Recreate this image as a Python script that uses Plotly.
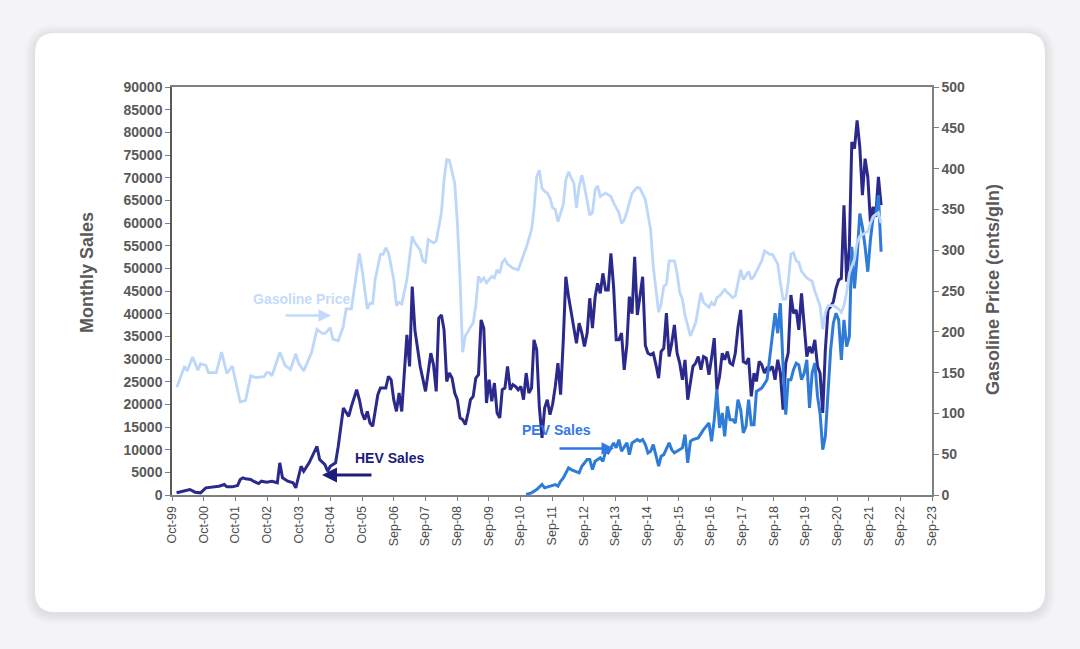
import plotly.graph_objects as go
import pandas as pd

# ---------------- DATA ----------------
x_tick_labels = ["Oct-99", "Oct-00", "Oct-01", "Oct-02", "Oct-03", "Oct-04", "Oct-05",
                 "Sep-06", "Sep-07", "Sep-08", "Sep-09", "Sep-10", "Sep-11", "Sep-12",
                 "Sep-13", "Sep-14", "Sep-15", "Sep-16", "Sep-17", "Sep-18", "Sep-19",
                 "Sep-20", "Sep-21", "Sep-22", "Sep-23"]
x_axis_start = "1999-10-09"     # first labelled tick (Excel date axis)
x_tick_step_days = 364          # Excel major unit

y_left_ticks = list(range(0, 90001, 5000))
y_right_ticks = list(range(0, 501, 50))

# monthly values, None = month not read (line connects across)
gas_start = "1999-12"
gas_price = [
    132,                                                           # 1999 Dec
    140, None, 158, 152, None, 169, None, 153, 161, None, 159, 150,  # 2000
    None, None, 150, None, 175, None, 149, None, 158, None, 130, 114,  # 2001
    None, 116, None, 146, None, 144, None, None, 145, 150, 150, 146,  # 2002
    None, None, 175, None, 159, None, 154, None, 173, 162, None, 152,  # 2003
    None, None, 175, None, 203, None, 198, 198, None, 205, 191, None,  # 2004
    189, None, 207, 228, None, 228, 252, None, 296, 277, None, 228,    # 2005
    235, 235, 264, None, 295, 295, 303, 297, None, 264, 232, 236,      # 2006
    234, None, 264, None, 317, 309, None, 300, 287, 285, 313, None,    # 2007
    309, 311, None, 346, 386, 411, 410, None, 382, 334, 264, 175,      # 2008
    195, 201, None, 211, 232, 268, 262, 266, 260, None, 268, 266,      # 2009
    276, 272, 285, 289, 283, None, 278, None, 276, 285, None, 303,     # 2010
    None, 325, 350, 390, 398, 376, 372, 370, 364, 352, 350, 335,       # 2011
    None, 356, 386, 396, None, 382, 352, 378, 392, 378, None, 343,     # 2012
    346, 374, 379, 366, None, 370, None, 366, 358, None, 346, 333,     # 2013
    337, 347, None, 370, None, 377, 376, None, 362, 341, 325, 280,     # 2014
    None, 224, 234, 256, 258, 287, None, 287, 272, 248, 240, 220,      # 2015
    None, 195, None, 211, 232, 248, 236, None, 230, 236, 232, 242,     # 2016
    244, None, 252, 248, None, 242, 244, 260, 276, 264, None, 274,     # 2017
    264, 268, 274, None, 287, 299, 297, 295, 295, None, 283, 260,      # 2018
    240, 240, 260, 295, 297, 287, 285, 274, None, 266, 264, 262,       # 2019
    250, None, 232, 203, 224, 232, None, 232, 230, 228, 224, 232,      # 2020
    248, 272, None, 289, 309, 317, None, 321, 323, 333, 341, None,     # 2021
    346, 333,                                                      # 2022
]

hev_start = "1999-12"
hev_sales = [
    480,                                                                        # 1999 Dec
    None, 840, None, None, 1210, None, 620, None, 480, None, 1580, None,          # 2000
    None, 1800, None, 1940, None, 2310, 1800, None, 1800, None, 2090, 3410,       # 2001
    3790, 3560, None, 3410, 3040, None, 2530, 3040, None, 2820, None, 3040,       # 2002
    None, 2690, 7090, 3790, None, 3040, None, 2690, 1580, None, 6340, 5240,       # 2003
    None, 7090, None, None, 10740, 7810, None, 6710, 5240, 6340, None, 7090,      # 2004
    10740, None, 19190, None, 17350, 19550, None, 23220, 21000, 18090, 16620, 18440,  # 2005
    15890, 15140, None, 22120, 23590, None, 23590, 26150, 25420, 21020, 18440, 22500,  # 2006
    18440, None, 35330, 28350, 45960, 36430, None, 28350, None, 22850, None, 31300,  # 2007
    28720, 22850, 39000, 39730, 36430, 25050, 26900, 25800, 22500, 21020, 16990, 16620,  # 2008
    15520, 18090, 21020, 21750, 25800, 26520, 38630, 36800, 20290, 25420, 20650, 24700,  # 2009
    18090, 16990, 23220, 23580, 28350, 23220, 24320, 23950, 23220, 23950, 21020, 26900,  # 2010
    22500, 23580, 34230, 32030, 19550, 12590, 19190, 21020, 17720, 20000, 24000, 29090,  # 2011
    22120, 34220, 48150, 43760, 40100, 37150, 33490, 37900, 35700, 32750, 35700, 43400,  # 2012
    36790, 43760, 46700, 44500, 48900, 45230, 45230, 53300, 45980, 34220, 34220, 35700,  # 2013
    27620, 33120, 43750, 40000, 52550, 39700, None, 48150, 33000, 31290, 30920, 31290,   # 2014
    28720, 25790, 31650, 32400, 40100, 30540, 33500, 37520, 31290, 29100, 25420, 29820,  # 2015
    21020, 25050, 28350, 29100, 30550, 27620, 30550, 30200, 26500, 30200, 34590, 23220,  # 2016
    26150, 31290, 29820, 31650, 29100, 28720, 31290, 37040, 40830, 29440, 29100, 30200,  # 2017
    21750, 26900, 25050, 29440, 28720, 26900, 28000, 27620, 28350, 25420, 29820, 26900,  # 2018
    18810, 29100, 31300, 44120, 40100, 40830, 36430, 44490, 37150, 30540, 32750, 31300,  # 2019
    34230, 28350, 26900, 18090, 32030, 40830, 41560, 42650, 45600, 47420, 47800, 63930,  # 2020
    47060, 54750, 77850, 76400, 82630, 76770, 66130, 74200, 70160, 60250, 63560, 61360,  # 2021
    70160, 63930,                                                                # 2022
]

pev_start = "2010-12"
pev_sales = [
    100,                                                                          # 2010 Dec
    None, 480, None, 1210, None, 2310, 1580, None, 1940, None, 2310, 1940,          # 2011
    3040, 3780, None, 5990, 5610, None, 5240, 4890, 6340, None, 7810, 7810,         # 2012
    5610, 7440, None, 8190, 7440, 9640, 9290, None, 11490, 10390, 12220, 9650,      # 2013
    10740, 11490, 8900, 11490, None, 12220, 11840, 12220, 11110, 9290, 9640, 11110,  # 2014
    None, 6340, 8540, 8910, None, 11490, 10010, 9290, 9640, 10010, 10390, 13310,    # 2015
    7090, 11840, 12220, None, 12590, 13690, 14420, 15140, 15890, 11850, 16620, 23220,  # 2016
    14790, 18090, 12940, 19550, 16620, 16620, 15890, 21020, 18810, 13690, 15140, 21020,  # 2017
    15520, 15520, 22850, 23220, 23580, None, 25420, 30180, 35690, 40100, 35690, 42300,  # 2018
    28350, 17710, 25420, 25420, 27620, 29090, 28720, 25420, 26900, 29820, 19190, 26900,  # 2019
    29090, 21750, 18090, 10010, 12940, 23950, 32030, 37890, 40100, 38630, 29820, 38630,  # 2020
    32750, 34960, 54750, 45600, 52560, 62100, 59160, 54750, 49250, 56230, 61360, 61730,  # 2021
    66130, 53650,                                                                  # 2022
]

# ---------------- LAYOUT GEOMETRY ----------------
W, H = 1080, 649
ML, MR, MT, MB = 172, 148, 87, 154
PW, PH = W - ML - MR, H - MT - MB


def px(x):
    return (x - ML) / PW


def py(y):
    return (H - MB - y) / PH


def rrect(x0, y0, x1, y1, r):
    def P(a, b):
        return f"{px(a):.5f},{py(b):.5f}"
    return (f"M {P(x0 + r, y0)} L {P(x1 - r, y0)} Q {P(x1, y0)} {P(x1, y0 + r)} "
            f"L {P(x1, y1 - r)} Q {P(x1, y1)} {P(x1 - r, y1)} "
            f"L {P(x0 + r, y1)} Q {P(x0, y1)} {P(x0, y1 - r)} "
            f"L {P(x0, y0 + r)} Q {P(x0, y0)} {P(x0 + r, y0)} Z")


def month_dates(start, n):
    return pd.date_range(start=start, periods=n, freq="MS")


HEV_COLOR = "#2b2a8c"
PEV_COLOR = "#2f7bd8"
GAS_COLOR = "#bdd7fb"
AXIS_GRAY = "#808080"
TEXT_GRAY = "#595959"
FONT = "Liberation Sans, Arial, sans-serif"

fig = go.Figure()
fig.add_trace(go.Scatter(x=month_dates(hev_start, len(hev_sales)), y=hev_sales,
                         mode="lines", line=dict(color=HEV_COLOR, width=3),
                         connectgaps=True, name="HEV Sales"))
fig.add_trace(go.Scatter(x=month_dates(pev_start, len(pev_sales)), y=pev_sales,
                         mode="lines", line=dict(color=PEV_COLOR, width=3),
                         connectgaps=True, name="PEV Sales"))
fig.add_trace(go.Scatter(x=month_dates(gas_start, len(gas_price)), y=gas_price,
                         mode="lines", line=dict(color=GAS_COLOR, width=2.8),
                         connectgaps=True, name="Gasoline Price", yaxis="y2"))

tick0 = pd.Timestamp(x_axis_start)
tickvals = [tick0 + pd.Timedelta(days=x_tick_step_days * i) for i in range(len(x_tick_labels))]

shapes = []
# soft card shadow
for k in range(10, 0, -1):
    shapes.append(dict(type="path", xref="paper", yref="paper",
                       path=rrect(35 - k, 33 - k + 2, 1045 + k, 612 + k + 2, 20 + k),
                       fillcolor="rgba(60,60,80,0.012)", line=dict(width=0), layer="below"))
shapes.append(dict(type="path", xref="paper", yref="paper",
                   path=rrect(35, 33, 1045, 612, 20),
                   fillcolor="white", line=dict(width=0), layer="below"))

annotations = [
    dict(text="Monthly Sales", x=px(87), y=py(273), xref="paper", yref="paper",
         textangle=-90, showarrow=False, xanchor="center", yanchor="middle",
         font=dict(family=FONT, size=18, color=TEXT_GRAY, weight="bold")),
    dict(text="Gasoline Price (cnts/gln)", x=px(993), y=py(290), xref="paper", yref="paper",
         textangle=-90, showarrow=False, xanchor="center", yanchor="middle",
         font=dict(family=FONT, size=18, color=TEXT_GRAY, weight="bold")),
    dict(text="Gasoline Price", x=px(301.5), y=py(299), xref="paper", yref="paper",
         showarrow=False, xanchor="center", yanchor="middle",
         font=dict(family=FONT, size=14, color="#c4dafc", weight="bold")),
    dict(text="", x=px(331), y=py(315.5), xref="paper", yref="paper", showarrow=True,
         ax=-47, ay=0, arrowhead=2, arrowsize=1, arrowwidth=2.5, arrowcolor="#c4dafc"),
    dict(text="HEV Sales", x=px(389), y=py(458), xref="paper", yref="paper",
         showarrow=False, xanchor="center", yanchor="middle",
         font=dict(family=FONT, size=14, color="#1c1c7a", weight="bold")),
    dict(text="", x=px(322), y=py(475), xref="paper", yref="paper", showarrow=True,
         ax=51, ay=0, arrowhead=2, arrowsize=1, arrowwidth=3, arrowcolor="#1c1c7a"),
    dict(text="PEV Sales", x=px(556.5), y=py(430), xref="paper", yref="paper",
         showarrow=False, xanchor="center", yanchor="middle",
         font=dict(family=FONT, size=14, color="#3478e6", weight="bold")),
    dict(text="", x=px(614), y=py(448.5), xref="paper", yref="paper", showarrow=True,
         ax=-56, ay=0, arrowhead=2, arrowsize=1, arrowwidth=2.5, arrowcolor="#3478e6"),
]

fig.update_layout(
    width=W, height=H,
    margin=dict(l=ML, r=MR, t=MT, b=MB),
    paper_bgcolor="#f4f4f6",
    plot_bgcolor="white",
    showlegend=False,
    shapes=shapes,
    annotations=annotations,
    font=dict(family=FONT, color=TEXT_GRAY),
    xaxis=dict(type="date", range=[tickvals[0], tickvals[-1]],
               tickmode="array", tickvals=tickvals, ticktext=x_tick_labels,
               tickangle=-90, tickfont=dict(family=FONT, size=12.5, color="#4d4d4d"),
               showgrid=False, zeroline=False,
               showline=True, linecolor=AXIS_GRAY, linewidth=2, mirror=True,
               ticks="outside", ticklen=4, tickwidth=1, tickcolor=AXIS_GRAY),
    yaxis=dict(range=[0, 90000], tickmode="array", tickvals=y_left_ticks,
               tickformat="d", showgrid=False, zeroline=False,
               tickfont=dict(family=FONT, size=14, color=TEXT_GRAY, weight="bold"),
               showline=True, linecolor="#5a5a5a", linewidth=1.5,
               ticks="outside", ticklen=5, tickwidth=1, tickcolor=AXIS_GRAY),
    yaxis2=dict(range=[0, 500], tickmode="array", tickvals=y_right_ticks,
                overlaying="y", side="right", showgrid=False, zeroline=False,
                tickfont=dict(family=FONT, size=14, color=TEXT_GRAY, weight="bold"),
                showline=True, linecolor=AXIS_GRAY, linewidth=1.5,
                ticks="outside", ticklen=5, tickwidth=1, tickcolor=AXIS_GRAY),
)

fig.write_html("out.html",
               config={"displayModeBar": False},
               post_script="document.body.style.margin='0px';"
                           "document.body.style.background='#f4f4f6';")
